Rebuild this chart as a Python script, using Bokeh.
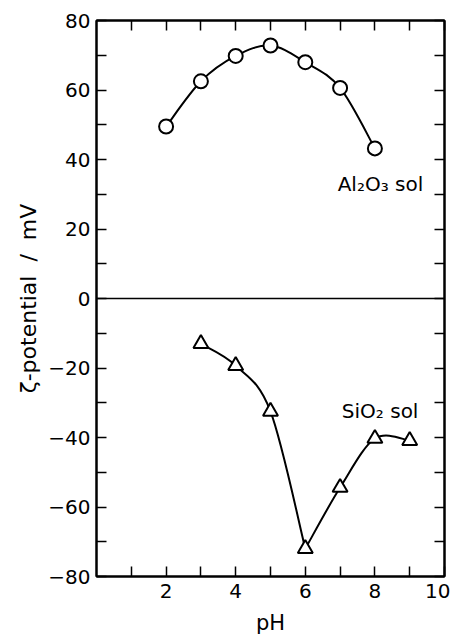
from bokeh.plotting import figure
from bokeh.models import LinearAxis, FixedTicker, Span, Range1d
from bokeh.embed import file_html
from bokeh.resources import INLINE
from bokeh.core.properties import value

# ---- data ----
al_ph = [2, 3, 4, 5, 6, 7, 8]
al_zeta = [49.5, 62.5, 69.8, 72.8, 68.0, 60.6, 43.2]
si_ph = [3, 4, 5, 6, 7, 8, 9]
si_zeta = [-13.0, -19.3, -32.5, -72.0, -54.4, -40.3, -40.9]
si_break = 3  # index of the sharp minimum (curve drawn as two pieces)

x_major = [2, 4, 6, 8, 10]
x_minor = [1, 3, 5, 7, 9]
y_major = [-80, -60, -40, -20, 0, 20, 40, 60, 80]
y_minor = [-70, -50, -30, -10, 10, 30, 50, 70]
y_labels = {-80: "\u221280", -60: "\u221260", -40: "\u221240", -20: "\u221220",
            0: "0", 20: "20", 40: "40", 60: "60", 80: "80"}

FONT = "DejaVu Sans"


def catmull_bezier(xs, ys):
    """Bezier control points through the data (rendering only)."""
    n = len(xs)
    x0, y0, x1, y1, cx0, cy0, cx1, cy1 = ([] for _ in range(8))
    for i in range(n - 1):
        pxm, pym = (xs[i - 1], ys[i - 1]) if i > 0 else (xs[i], ys[i])
        pxp, pyp = (xs[i + 2], ys[i + 2]) if i + 2 < n else (xs[i + 1], ys[i + 1])
        x0.append(xs[i]); y0.append(ys[i])
        x1.append(xs[i + 1]); y1.append(ys[i + 1])
        cx0.append(xs[i] + (xs[i + 1] - pxm) / 6.0)
        cy0.append(ys[i] + (ys[i + 1] - pym) / 6.0)
        cx1.append(xs[i + 1] - (pxp - xs[i]) / 6.0)
        cy1.append(ys[i + 1] - (pyp - ys[i]) / 6.0)
    return dict(x0=x0, y0=y0, x1=x1, y1=y1, cx0=cx0, cy0=cy0, cx1=cx1, cy1=cy1)


p = figure(width=450, height=639, output_backend="svg", toolbar_location=None,
           x_range=Range1d(0, 10), y_range=Range1d(-80, 80),
           min_border_left=96, min_border_right=6, min_border_top=20,
           min_border_bottom=63, x_axis_location=None, y_axis_location=None)
p.grid.visible = False
p.outline_line_color = "black"
p.outline_line_width = 2
p.background_fill_color = "white"
p.border_fill_color = "white"


def style_axis(ax, labels=True):
    ax.axis_line_color = "black"
    ax.axis_line_width = 2
    ax.major_tick_in = 10
    ax.major_tick_out = 0
    ax.minor_tick_in = 10
    ax.minor_tick_out = 0
    ax.major_tick_line_width = 1.5
    ax.minor_tick_line_width = 1.5
    ax.major_tick_line_color = "black"
    ax.minor_tick_line_color = "black"
    ax.major_label_text_font = FONT
    ax.major_label_text_font_size = "20px"
    ax.major_label_text_color = "black"
    ax.axis_label_text_font = FONT
    ax.axis_label_text_font_size = "21px"
    ax.axis_label_text_font_style = "normal"
    ax.axis_label_text_color = "black"
    if not labels:
        ax.major_label_text_alpha = 0


xb = LinearAxis(ticker=FixedTicker(ticks=x_major, minor_ticks=x_minor), axis_label="pH")
style_axis(xb)
xb.major_label_standoff = 7
xb.axis_label_standoff = 10
p.add_layout(xb, "below")

yl = LinearAxis(ticker=FixedTicker(ticks=y_major, minor_ticks=y_minor),
                axis_label="\u03b6-potential\u00a0\u00a0/\u00a0\u00a0mV")
style_axis(yl)
yl.axis_label_text_font_size = "22px"
yl.major_label_overrides = y_labels
yl.major_label_standoff = 6
yl.axis_label_standoff = 4
p.add_layout(yl, "left")

xt = LinearAxis(ticker=FixedTicker(ticks=x_major + x_minor))
style_axis(xt, labels=False)
xt.major_label_text_font_size = "1px"
p.add_layout(xt, "above")

yr = LinearAxis(ticker=FixedTicker(ticks=y_major + y_minor))
style_axis(yr, labels=False)
yr.major_label_text_font_size = "1px"
p.add_layout(yr, "right")

p.add_layout(Span(location=0, dimension="width", line_color="black", line_width=1.5))

# curves
pieces = [(al_ph, al_zeta),
          (si_ph[:si_break + 1], si_zeta[:si_break + 1]),
          (si_ph[si_break:], si_zeta[si_break:])]
for xs, ys in pieces:
    b = catmull_bezier(xs, ys)
    p.bezier(x0="x0", y0="y0", x1="x1", y1="y1", cx0="cx0", cy0="cy0",
             cx1="cx1", cy1="cy1", source=b, line_color="black", line_width=2)

p.scatter(al_ph, al_zeta, marker="circle", size=14, fill_color="white",
          line_color="black", line_width=2)
p.scatter(si_ph, si_zeta, marker="triangle", size=15, fill_color="white",
          line_color="black", line_width=2)

p.text(x=[6.93], y=[33], text=["Al\u2082O\u2083 sol"], text_font=value(FONT),
       text_font_size="20px", text_baseline="middle", text_align="left",
       text_color="black")
p.text(x=[7.05], y=[-32.5], text=["SiO\u2082 sol"], text_font=value(FONT),
       text_font_size="20px", text_baseline="middle", text_align="left",
       text_color="black")

open("out.html", "w").write(file_html(p, INLINE))
